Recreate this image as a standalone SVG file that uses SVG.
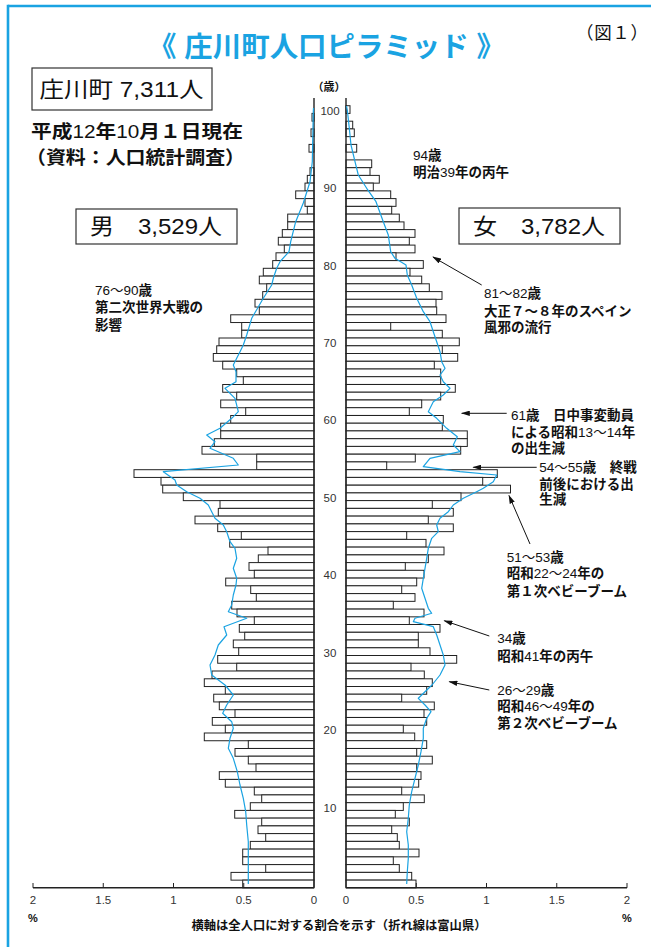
<svg xmlns="http://www.w3.org/2000/svg" width="651" height="947" viewBox="0 0 651 947">
<defs>
<style>
.b{fill:#fff;stroke:#222;stroke-width:1}
.ax{stroke:#222;stroke-width:1.4;fill:none}
.tk{stroke:#222;stroke-width:1;fill:none}
.pl{fill:none;stroke:#1AA3E2;stroke-width:1.2;stroke-linejoin:round}
.al{stroke:#111;stroke-width:1;fill:none}
.jp{font-family:"Liberation Sans","Noto Sans CJK JP",sans-serif;fill:#111}
.ann{font-size:13.5px;font-weight:bold}
.n{font-weight:normal}
.num{font-family:"Liberation Sans",sans-serif;font-size:11.5px;fill:#333}
.box{fill:#fff;stroke:#333;stroke-width:1.2}
</style>
<marker id="ah" viewBox="0 0 10 6" refX="9" refY="3" markerWidth="9" markerHeight="5.5" orient="auto" markerUnits="userSpaceOnUse">
<path d="M0,0 L10,3 L0,6 Z" fill="#111"/>
</marker>
</defs>
<rect x="0" y="0" width="651" height="947" fill="#fff"/>
<g id="frame">
<line x1="8" y1="6" x2="651" y2="6" stroke="#1AA3E2" stroke-width="2.6"/>
<line x1="8" y1="4.7" x2="8" y2="947" stroke="#1AA3E2" stroke-width="2.6"/>
</g>
<g id="title">
<text x="326.5" y="57" text-anchor="middle" class="jp" style="font-size:28px;font-weight:bold;fill:#1AA3E2" textLength="357" lengthAdjust="spacingAndGlyphs">《 庄川町人口ピラミッド 》</text>
<text x="576" y="39" class="jp" style="font-size:17.5px" textLength="72" lengthAdjust="spacing">（図１）</text>
</g>
<g id="total-box">
<rect class="box" x="32" y="68" width="180" height="42"/>
<text x="39.5" y="97" class="jp" style="font-size:22px" textLength="164" lengthAdjust="spacingAndGlyphs">庄川町 7,311人</text>
</g>
<g id="date">
<text x="31" y="138" class="jp" style="font-size:18.5px;font-weight:bold" textLength="212" lengthAdjust="spacingAndGlyphs">平成<tspan class="n">12</tspan>年<tspan class="n">10</tspan>月１日現在</text>
<text x="26" y="164" class="jp" style="font-size:18.5px;font-weight:bold" textLength="219" lengthAdjust="spacingAndGlyphs">（資料：人口統計調査）</text>
</g>
<g id="male-box">
<rect class="box" x="76" y="209" width="161" height="35"/>
<text x="90" y="234" class="jp" style="font-size:22px" textLength="132" lengthAdjust="spacingAndGlyphs">男　3,529人</text>
</g>
<g id="female-box">
<rect class="box" x="459" y="208" width="161" height="36"/>
<text x="473" y="234" class="jp" style="font-size:22px" textLength="132" lengthAdjust="spacingAndGlyphs">女　3,782人</text>
</g>
<g id="male-bars">
<rect class="b" x="312" y="113.4" width="2" height="7.74"/>
<rect class="b" x="311" y="128.9" width="3" height="7.74"/>
<rect class="b" x="309" y="144.4" width="5" height="7.74"/>
<rect class="b" x="310" y="167.7" width="4" height="7.74"/>
<rect class="b" x="307.3" y="175.4" width="6.7" height="7.74"/>
<rect class="b" x="305" y="183.1" width="9" height="7.74"/>
<rect class="b" x="295.7" y="190.9" width="18.3" height="7.74"/>
<rect class="b" x="305" y="198.6" width="9" height="7.74"/>
<rect class="b" x="307.3" y="206.4" width="6.7" height="7.74"/>
<rect class="b" x="287.7" y="214.1" width="26.3" height="7.74"/>
<rect class="b" x="287.7" y="221.9" width="26.3" height="7.74"/>
<rect class="b" x="282.3" y="229.6" width="31.7" height="7.74"/>
<rect class="b" x="278.3" y="237.3" width="35.7" height="7.74"/>
<rect class="b" x="284.3" y="245.1" width="29.7" height="7.74"/>
<rect class="b" x="276" y="252.8" width="38" height="7.74"/>
<rect class="b" x="272.7" y="260.6" width="41.3" height="7.74"/>
<rect class="b" x="263.3" y="268.3" width="50.7" height="7.74"/>
<rect class="b" x="259.3" y="276.1" width="54.7" height="7.74"/>
<rect class="b" x="266.7" y="283.8" width="47.3" height="7.74"/>
<rect class="b" x="262.7" y="291.6" width="51.3" height="7.74"/>
<rect class="b" x="255" y="299.3" width="59" height="7.74"/>
<rect class="b" x="259.3" y="307" width="54.7" height="7.74"/>
<rect class="b" x="230.7" y="314.8" width="83.3" height="7.74"/>
<rect class="b" x="241.7" y="322.5" width="72.3" height="7.74"/>
<rect class="b" x="241.7" y="330.3" width="72.3" height="7.74"/>
<rect class="b" x="219" y="338" width="95" height="7.74"/>
<rect class="b" x="216.7" y="345.8" width="97.3" height="7.74"/>
<rect class="b" x="213.3" y="353.5" width="100.7" height="7.74"/>
<rect class="b" x="222.7" y="361.3" width="91.3" height="7.74"/>
<rect class="b" x="236.7" y="369" width="77.3" height="7.74"/>
<rect class="b" x="243.3" y="376.7" width="70.7" height="7.74"/>
<rect class="b" x="222.7" y="384.5" width="91.3" height="7.74"/>
<rect class="b" x="236.7" y="392.2" width="77.3" height="7.74"/>
<rect class="b" x="220.7" y="400" width="93.3" height="7.74"/>
<rect class="b" x="245.7" y="407.7" width="68.3" height="7.74"/>
<rect class="b" x="230.7" y="415.5" width="83.3" height="7.74"/>
<rect class="b" x="220.7" y="423.2" width="93.3" height="7.74"/>
<rect class="b" x="220.7" y="430.9" width="93.3" height="7.74"/>
<rect class="b" x="214.3" y="438.7" width="99.7" height="7.74"/>
<rect class="b" x="202" y="446.4" width="112" height="7.74"/>
<rect class="b" x="256.7" y="454.2" width="57.3" height="7.74"/>
<rect class="b" x="256.7" y="461.9" width="57.3" height="7.74"/>
<rect class="b" x="134" y="469.7" width="180" height="7.74"/>
<rect class="b" x="161" y="477.4" width="153" height="7.74"/>
<rect class="b" x="162.7" y="485.2" width="151.3" height="7.74"/>
<rect class="b" x="183.3" y="492.9" width="130.7" height="7.74"/>
<rect class="b" x="220" y="500.6" width="94" height="7.74"/>
<rect class="b" x="218.3" y="508.4" width="95.7" height="7.74"/>
<rect class="b" x="195" y="516.1" width="119" height="7.74"/>
<rect class="b" x="217.7" y="523.9" width="96.3" height="7.74"/>
<rect class="b" x="241.3" y="531.6" width="72.7" height="7.74"/>
<rect class="b" x="229.7" y="539.4" width="84.3" height="7.74"/>
<rect class="b" x="268" y="547.1" width="46" height="7.74"/>
<rect class="b" x="258.3" y="554.9" width="55.7" height="7.74"/>
<rect class="b" x="249" y="562.6" width="65" height="7.74"/>
<rect class="b" x="254.3" y="570.3" width="59.7" height="7.74"/>
<rect class="b" x="225.7" y="578.1" width="88.3" height="7.74"/>
<rect class="b" x="250.7" y="585.8" width="63.3" height="7.74"/>
<rect class="b" x="256.3" y="593.6" width="57.7" height="7.74"/>
<rect class="b" x="231.7" y="601.3" width="82.3" height="7.74"/>
<rect class="b" x="237" y="609.1" width="77" height="7.74"/>
<rect class="b" x="254.3" y="616.8" width="59.7" height="7.74"/>
<rect class="b" x="239.3" y="624.5" width="74.7" height="7.74"/>
<rect class="b" x="244.7" y="632.3" width="69.3" height="7.74"/>
<rect class="b" x="233.3" y="640" width="80.7" height="7.74"/>
<rect class="b" x="238.7" y="647.8" width="75.3" height="7.74"/>
<rect class="b" x="217.7" y="655.5" width="96.3" height="7.74"/>
<rect class="b" x="236.7" y="663.3" width="77.3" height="7.74"/>
<rect class="b" x="212" y="671" width="102" height="7.74"/>
<rect class="b" x="204.3" y="678.8" width="109.7" height="7.74"/>
<rect class="b" x="225.3" y="686.5" width="88.7" height="7.74"/>
<rect class="b" x="213.7" y="694.2" width="100.3" height="7.74"/>
<rect class="b" x="219.3" y="702" width="94.7" height="7.74"/>
<rect class="b" x="235" y="709.7" width="79" height="7.74"/>
<rect class="b" x="212.3" y="717.5" width="101.7" height="7.74"/>
<rect class="b" x="225.3" y="725.2" width="88.7" height="7.74"/>
<rect class="b" x="204.3" y="733" width="109.7" height="7.74"/>
<rect class="b" x="248.3" y="740.7" width="65.7" height="7.74"/>
<rect class="b" x="235" y="748.5" width="79" height="7.74"/>
<rect class="b" x="248.3" y="756.2" width="65.7" height="7.74"/>
<rect class="b" x="256" y="763.9" width="58" height="7.74"/>
<rect class="b" x="219.3" y="771.7" width="94.7" height="7.74"/>
<rect class="b" x="225.3" y="779.4" width="88.7" height="7.74"/>
<rect class="b" x="254.3" y="787.2" width="59.7" height="7.74"/>
<rect class="b" x="261.7" y="794.9" width="52.3" height="7.74"/>
<rect class="b" x="250.3" y="802.7" width="63.7" height="7.74"/>
<rect class="b" x="234.7" y="810.4" width="79.3" height="7.74"/>
<rect class="b" x="261.7" y="818.1" width="52.3" height="7.74"/>
<rect class="b" x="258" y="825.9" width="56" height="7.74"/>
<rect class="b" x="265.7" y="833.6" width="48.3" height="7.74"/>
<rect class="b" x="250.3" y="841.4" width="63.7" height="7.74"/>
<rect class="b" x="242.7" y="849.1" width="71.3" height="7.74"/>
<rect class="b" x="242.7" y="856.9" width="71.3" height="7.74"/>
<rect class="b" x="265.7" y="864.6" width="48.3" height="7.74"/>
<rect class="b" x="231" y="872.4" width="83" height="7.74"/>
<rect class="b" x="242.7" y="880.1" width="71.3" height="7.74"/>
</g>
<g id="female-bars">
<rect class="b" x="346" y="105.7" width="4" height="7.74"/>
<rect class="b" x="346" y="121.2" width="6.7" height="7.74"/>
<rect class="b" x="346" y="128.9" width="8.3" height="7.74"/>
<rect class="b" x="346" y="144.4" width="10.7" height="7.74"/>
<rect class="b" x="346" y="159.9" width="25.7" height="7.74"/>
<rect class="b" x="346" y="167.7" width="24" height="7.74"/>
<rect class="b" x="346" y="175.4" width="33.3" height="7.74"/>
<rect class="b" x="346" y="183.1" width="27.3" height="7.74"/>
<rect class="b" x="346" y="190.9" width="44.7" height="7.74"/>
<rect class="b" x="346" y="198.6" width="50" height="7.74"/>
<rect class="b" x="346" y="206.4" width="45.7" height="7.74"/>
<rect class="b" x="346" y="214.1" width="53.3" height="7.74"/>
<rect class="b" x="346" y="221.9" width="58" height="7.74"/>
<rect class="b" x="346" y="229.6" width="69" height="7.74"/>
<rect class="b" x="346" y="237.3" width="63.3" height="7.74"/>
<rect class="b" x="346" y="245.1" width="69" height="7.74"/>
<rect class="b" x="346" y="252.8" width="50" height="7.74"/>
<rect class="b" x="346" y="260.6" width="77.3" height="7.74"/>
<rect class="b" x="346" y="268.3" width="64" height="7.74"/>
<rect class="b" x="346" y="276.1" width="75.7" height="7.74"/>
<rect class="b" x="346" y="283.8" width="83.3" height="7.74"/>
<rect class="b" x="346" y="291.6" width="96" height="7.74"/>
<rect class="b" x="346" y="299.3" width="90" height="7.74"/>
<rect class="b" x="346" y="307" width="90.7" height="7.74"/>
<rect class="b" x="346" y="314.8" width="100" height="7.74"/>
<rect class="b" x="346" y="322.5" width="44.7" height="7.74"/>
<rect class="b" x="346" y="330.3" width="96.3" height="7.74"/>
<rect class="b" x="346" y="338" width="113.3" height="7.74"/>
<rect class="b" x="346" y="345.8" width="96.3" height="7.74"/>
<rect class="b" x="346" y="353.5" width="111.7" height="7.74"/>
<rect class="b" x="346" y="361.3" width="88.3" height="7.74"/>
<rect class="b" x="346" y="369" width="94.7" height="7.74"/>
<rect class="b" x="346" y="376.7" width="94.7" height="7.74"/>
<rect class="b" x="346" y="384.5" width="109.3" height="7.74"/>
<rect class="b" x="346" y="392.2" width="94.7" height="7.74"/>
<rect class="b" x="346" y="400" width="75.7" height="7.74"/>
<rect class="b" x="346" y="407.7" width="63.3" height="7.74"/>
<rect class="b" x="346" y="415.5" width="97.3" height="7.74"/>
<rect class="b" x="346" y="423.2" width="96.3" height="7.74"/>
<rect class="b" x="346" y="430.9" width="121.3" height="7.74"/>
<rect class="b" x="346" y="438.7" width="121.3" height="7.74"/>
<rect class="b" x="346" y="446.4" width="114.7" height="7.74"/>
<rect class="b" x="346" y="454.2" width="69.3" height="7.74"/>
<rect class="b" x="346" y="461.9" width="40.7" height="7.74"/>
<rect class="b" x="346" y="469.7" width="151.3" height="7.74"/>
<rect class="b" x="346" y="477.4" width="136.7" height="7.74"/>
<rect class="b" x="346" y="485.2" width="164.5" height="7.74"/>
<rect class="b" x="346" y="492.9" width="115" height="7.74"/>
<rect class="b" x="346" y="500.6" width="86.3" height="7.74"/>
<rect class="b" x="346" y="508.4" width="107.3" height="7.74"/>
<rect class="b" x="346" y="516.1" width="82.3" height="7.74"/>
<rect class="b" x="346" y="523.9" width="107.3" height="7.74"/>
<rect class="b" x="346" y="531.6" width="60.7" height="7.74"/>
<rect class="b" x="346" y="539.4" width="80" height="7.74"/>
<rect class="b" x="346" y="547.1" width="98" height="7.74"/>
<rect class="b" x="346" y="554.9" width="82.3" height="7.74"/>
<rect class="b" x="346" y="562.6" width="59.3" height="7.74"/>
<rect class="b" x="346" y="570.3" width="78" height="7.74"/>
<rect class="b" x="346" y="578.1" width="70.7" height="7.74"/>
<rect class="b" x="346" y="585.8" width="55.7" height="7.74"/>
<rect class="b" x="346" y="593.6" width="69" height="7.74"/>
<rect class="b" x="346" y="601.3" width="47.3" height="7.74"/>
<rect class="b" x="346" y="609.1" width="78" height="7.74"/>
<rect class="b" x="346" y="616.8" width="63.3" height="7.74"/>
<rect class="b" x="346" y="624.5" width="94" height="7.74"/>
<rect class="b" x="346" y="632.3" width="72.3" height="7.74"/>
<rect class="b" x="346" y="640" width="72.3" height="7.74"/>
<rect class="b" x="346" y="647.8" width="84" height="7.74"/>
<rect class="b" x="346" y="655.5" width="110.7" height="7.74"/>
<rect class="b" x="346" y="663.3" width="65" height="7.74"/>
<rect class="b" x="346" y="671" width="78.3" height="7.74"/>
<rect class="b" x="346" y="678.8" width="86.3" height="7.74"/>
<rect class="b" x="346" y="686.5" width="80.7" height="7.74"/>
<rect class="b" x="346" y="694.2" width="55.7" height="7.74"/>
<rect class="b" x="346" y="702" width="88.3" height="7.74"/>
<rect class="b" x="346" y="709.7" width="78" height="7.74"/>
<rect class="b" x="346" y="717.5" width="80.7" height="7.74"/>
<rect class="b" x="346" y="725.2" width="57.3" height="7.74"/>
<rect class="b" x="346" y="733" width="68.7" height="7.74"/>
<rect class="b" x="346" y="740.7" width="80.7" height="7.74"/>
<rect class="b" x="346" y="748.5" width="70.7" height="7.74"/>
<rect class="b" x="346" y="756.2" width="86.3" height="7.74"/>
<rect class="b" x="346" y="763.9" width="70.7" height="7.74"/>
<rect class="b" x="346" y="771.7" width="75" height="7.74"/>
<rect class="b" x="346" y="779.4" width="72.7" height="7.74"/>
<rect class="b" x="346" y="787.2" width="55.7" height="7.74"/>
<rect class="b" x="346" y="794.9" width="78.3" height="7.74"/>
<rect class="b" x="346" y="802.7" width="57.3" height="7.74"/>
<rect class="b" x="346" y="810.4" width="49.3" height="7.74"/>
<rect class="b" x="346" y="818.1" width="63.3" height="7.74"/>
<rect class="b" x="346" y="825.9" width="45.7" height="7.74"/>
<rect class="b" x="346" y="833.6" width="51.3" height="7.74"/>
<rect class="b" x="346" y="841.4" width="53.3" height="7.74"/>
<rect class="b" x="346" y="849.1" width="73" height="7.74"/>
<rect class="b" x="346" y="856.9" width="47.3" height="7.74"/>
<rect class="b" x="346" y="864.6" width="53.3" height="7.74"/>
<rect class="b" x="346" y="872.4" width="65.7" height="7.74"/>
<rect class="b" x="346" y="880.1" width="70" height="7.74"/>
</g>
<g id="axes">
<line class="ax" x1="314" y1="98" x2="314" y2="887.8"/>
<line class="ax" x1="346" y1="98" x2="346" y2="887.8"/>
<line class="ax" x1="33" y1="887.8" x2="314" y2="887.8"/>
<line class="ax" x1="346" y1="887.8" x2="627" y2="887.8"/>
<path class="tk" d="M33,883V887.8M103.25,883V887.8M173.5,883V887.8M243.75,883V887.8M416.25,883V887.8M486.5,883V887.8M556.75,883V887.8M627,883V887.8"/>
</g>
<g id="age-labels" class="num" text-anchor="middle">
<text x="330" y="114.6">100</text>
<text x="330" y="192">90</text>
<text x="330" y="269.5">80</text>
<text x="330" y="346.9">70</text>
<text x="330" y="424.4">60</text>
<text x="330" y="501.8">50</text>
<text x="330" y="579.2">40</text>
<text x="330" y="656.7">30</text>
<text x="330" y="734.1">20</text>
<text x="330" y="811.6">10</text>
</g>
<text x="329" y="91" text-anchor="middle" class="jp" style="font-size:11px;font-weight:bold">（歳）</text>
<g id="x-labels" class="num" text-anchor="middle">
<text x="33" y="904">2</text>
<text x="103.25" y="904">1.5</text>
<text x="173.5" y="904">1</text>
<text x="243.75" y="904">0.5</text>
<text x="314" y="904">0</text>
<text x="346" y="904">0</text>
<text x="416.25" y="904">0.5</text>
<text x="486.5" y="904">1</text>
<text x="556.75" y="904">1.5</text>
<text x="627" y="904">2</text>
</g>
<text x="33" y="922" text-anchor="middle" class="jp" style="font-size:11px;font-weight:bold">%</text>
<text x="627" y="922" text-anchor="middle" class="jp" style="font-size:11px;font-weight:bold">%</text>
<text x="339" y="930" text-anchor="middle" class="jp" style="font-size:12px;font-weight:bold" textLength="295" lengthAdjust="spacingAndGlyphs">横軸は全人口に対する割合を示す（折れ線は富山県）</text>
<g id="toyama-lines">
<polyline class="pl" points="313.5,108 313.3,112 312.3,161.7 310,181.7 303.3,203 295.7,221.7 290.7,241.7 289,251.7 280,261.7 276.7,268.3 273.3,278.3 271.7,285 263.3,298.3 251.7,318.3 246.7,335 243.3,345 240,351.7 236.7,358.3 233.3,365 236,371.7 236,381.7 225,388.3 235,398.3 238.3,411.7 231.7,418.3 220,428.3 206.7,435 215,441.7 210,448.3 233.3,458.3 238.3,465 163.3,471.7 175,480 176.7,485 186.7,491.7 200,498.3 208.3,505 211.7,511.7 215,518.3 223.3,525 226.7,531.7 230,541.7 235,548.3 236.7,558.3 233.3,568.3 236.7,578.3 236,585 233.3,595 231.7,605 228.3,611.7 246.7,618.3 224,626.7 226.7,635 218.3,645 215,655 210,665 211.7,675 225,685 233.3,695 226.7,705 222.7,713.3 231.7,721.7 233.3,728.3 230,738.3 228.3,748.3 233.3,758.3 237.3,771.7 240,785 243.3,798.3 245.7,811.7 246.7,825 248.3,841.7 248.3,858.3 248.3,871.7 248.3,884"/>
<polyline class="pl" points="346.5,106 347.3,110 349.3,128.3 351,145 355,161.7 358.3,175 366.7,188.3 376,201.7 383.3,221.7 388.3,235 390.7,251.7 395,258.3 406,265 407.3,275 411.7,285 416.7,298.3 423.3,311.7 430,321.7 433.3,331.7 436.7,341.7 440,351.7 441.7,361.7 445,368.3 440,375 443.3,381.7 450,388.3 443.3,395 433.3,401.7 428.3,411.7 436.7,418.3 446.7,428.3 457.3,436.7 453.3,445 460,451.7 430,458.3 423.3,466.7 460,471.7 496.7,475 493.3,481.7 483.3,488.3 476.7,491.7 463.3,498.3 453.3,505 448.3,511.7 440,518.3 436.7,525 438.3,531.7 431.7,538.3 428.3,548.3 426.7,558.3 425,568.3 423.3,578.3 421.7,588.3 425,598.3 428.3,608.3 431.7,613.3 415,618.3 413.3,621.7 433.3,626.7 436.7,635 440,645 443.3,655 445,665 440,675 432,685 425,691.7 418.3,698.3 425,705 431,711.7 426.7,718.3 423.3,728.3 423.3,738.3 421,751.7 418.3,765 415,778.3 411.7,791.7 409.3,805 408.3,818.3 406.7,831.7 408.3,845 408.3,858.3 407.3,871.7 406.7,884"/>
</g>
<g id="arrows">
<line class="al" x1="481.7" y1="285" x2="433" y2="257" marker-end="url(#ah)"/>
<line class="al" x1="506.7" y1="413.3" x2="461.7" y2="413.3" marker-end="url(#ah)"/>
<line class="al" x1="536.7" y1="467.3" x2="473.3" y2="467.3" marker-end="url(#ah)"/>
<line class="al" x1="530" y1="544" x2="509" y2="495.5" marker-end="url(#ah)"/>
<line class="al" x1="489.3" y1="636" x2="444.3" y2="620.7" marker-end="url(#ah)"/>
<line class="al" x1="489.3" y1="690" x2="449.3" y2="681.7" marker-end="url(#ah)"/>
</g>
<g id="note-94" class="jp ann">
<text x="413" y="160"><tspan class="n">94</tspan>歳</text>
<text x="413" y="177">明治<tspan class="n">39</tspan>年の丙午</text>
</g>
<g id="note-81" class="jp ann">
<text x="484" y="298"><tspan class="n">81～82</tspan>歳</text>
<text x="484" y="315.5">大正７～８年のスペイン</text>
<text x="484" y="332">風邪の流行</text>
</g>
<g id="note-61" class="jp ann">
<text x="511" y="420"><tspan class="n">61</tspan>歳　日中事変動員</text>
<text x="511" y="436.7">による昭和<tspan class="n">13～14</tspan>年</text>
<text x="511" y="453.3">の出生減</text>
</g>
<g id="note-54" class="jp ann">
<text x="539.3" y="472.3"><tspan class="n">54～55</tspan>歳　終戦</text>
<text x="539.3" y="489">前後における出</text>
<text x="539.3" y="504.3">生減</text>
</g>
<g id="note-51" class="jp ann">
<text x="506.7" y="561.7"><tspan class="n">51～53</tspan>歳</text>
<text x="506.7" y="578.3">昭和<tspan class="n">22～24</tspan>年の</text>
<text x="506.7" y="595.7">第１次ベビーブーム</text>
</g>
<g id="note-34" class="jp ann">
<text x="497.3" y="643.3"><tspan class="n">34</tspan>歳</text>
<text x="497.3" y="660.7">昭和<tspan class="n">41</tspan>年の丙午</text>
</g>
<g id="note-26" class="jp ann">
<text x="497.3" y="695"><tspan class="n">26～29</tspan>歳</text>
<text x="497.3" y="710.7">昭和<tspan class="n">46～49</tspan>年の</text>
<text x="497.3" y="727.7">第２次ベビーブーム</text>
</g>
<g id="note-76" class="jp ann">
<text x="95" y="295"><tspan class="n">76～90</tspan>歳</text>
<text x="95" y="312">第二次世界大戦の</text>
<text x="95" y="330">影響</text>
</g>
</svg>
